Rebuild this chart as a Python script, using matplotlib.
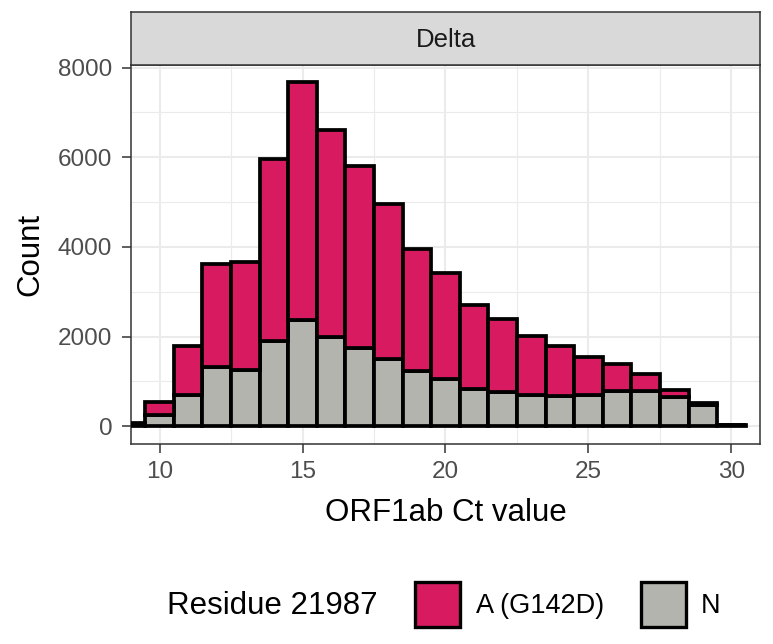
#!/usr/bin/env python
# -*- coding: utf-8 -*-

import numpy as np
import matplotlib
matplotlib.use("Agg")
import matplotlib.pyplot as plt
from matplotlib.patches import Rectangle

matplotlib.rcParams['font.family'] = ['Liberation Sans', 'DejaVu Sans']

# histogram counts per 1-unit Ct bin (bin centres)
ct_bins = np.arange(9, 31)
n_counts = [55, 260, 690, 1320, 1260, 1900, 2370, 2000, 1740, 1500, 1230,
            1060, 840, 765, 690, 675, 705, 790, 790, 655, 480, 20]
total_counts = [70, 540, 1800, 3620, 3670, 5965, 7675, 6600, 5800, 4950, 3950,
                3430, 2705, 2395, 2025, 1800, 1555, 1380, 1170, 815, 520, 25]
a_counts = [t - n for t, n in zip(total_counts, n_counts)]

groups = ["A (G142D)", "N"]
colors = ["#D81B60", "#B4B4AF"]
facet = "Delta"
legend_title = "Residue 21987"

W, H = 773, 644
fig = plt.figure(figsize=(W / 100, H / 100), dpi=100)

# panel placement in pixels
px_l, px_r, px_t, px_b = 131, 760, 65, 443.5
ax = fig.add_axes([px_l / W, 1 - px_b / H, (px_r - px_l) / W, (px_b - px_t) / H])

ax.set_facecolor("white")
ax.bar(ct_bins, n_counts, width=1.0, color=colors[1], edgecolor="black",
       linewidth=2.7, zorder=3)
ax.bar(ct_bins, a_counts, width=1.0, bottom=n_counts, color=colors[0],
       edgecolor="black", linewidth=2.7, zorder=3)

ymax = max(total_counts)
ax.set_xlim(9, 31)
ax.set_ylim(-0.05 * ymax, 1.05 * ymax)

ax.set_xticks([10, 15, 20, 25, 30])
ax.set_xticks([12.5, 17.5, 22.5, 27.5], minor=True)
ax.set_yticks([0, 2000, 4000, 6000, 8000])
ax.set_yticks([1000, 3000, 5000, 7000], minor=True)
ax.grid(which="major", color="#EBEBEB", linewidth=1.5, zorder=0)
ax.grid(which="minor", color="#EBEBEB", linewidth=0.8, zorder=0)
ax.set_axisbelow(True)

ax.tick_params(which="major", length=6.5, width=1.1, color="#333333",
               labelsize=17.5, labelcolor="#4D4D4D")
ax.tick_params(axis="x", which="major", pad=6)
ax.tick_params(axis="y", which="major", pad=7)
ax.tick_params(which="minor", length=0)
for s in ax.spines.values():
    s.set_color("#333333")
    s.set_linewidth(1.1)

ax.set_xlabel("ORF1ab Ct value", fontsize=22.5, labelpad=11)
ax.set_ylabel("Count", fontsize=22.5, labelpad=9)

# facet strip
sx = fig.add_axes([px_l / W, 1 - px_t / H, (px_r - px_l) / W, (px_t - 11.7) / H])
sx.set_facecolor("#D9D9D9")
sx.set_xticks([])
sx.set_yticks([])
for s in sx.spines.values():
    s.set_color("#333333")
    s.set_linewidth(1.1)
sx.text(0.5, 0.47, facet, ha="center", va="center", fontsize=18.5,
        color="#1A1A1A", transform=sx.transAxes)

# legend at bottom, drawn in pixel coordinates
def fx(x):
    return x / W

def fy(y):
    return 1 - y / H

fig.text(fx(167), fy(606), legend_title, fontsize=22.5, ha="left", va="center")
key_size = 45
for key_x, lab_x, col, lab in zip([415, 641], [476, 701], colors, groups):
    fig.add_artist(Rectangle((fx(key_x), fy(582 + key_size)),
                             key_size / W, key_size / H, transform=fig.transFigure,
                             facecolor=col, edgecolor="black", linewidth=2.4))
    fig.text(fx(lab_x), fy(606), lab, fontsize=19.5, ha="left", va="center")

fig.savefig("out.png", dpi=100)
